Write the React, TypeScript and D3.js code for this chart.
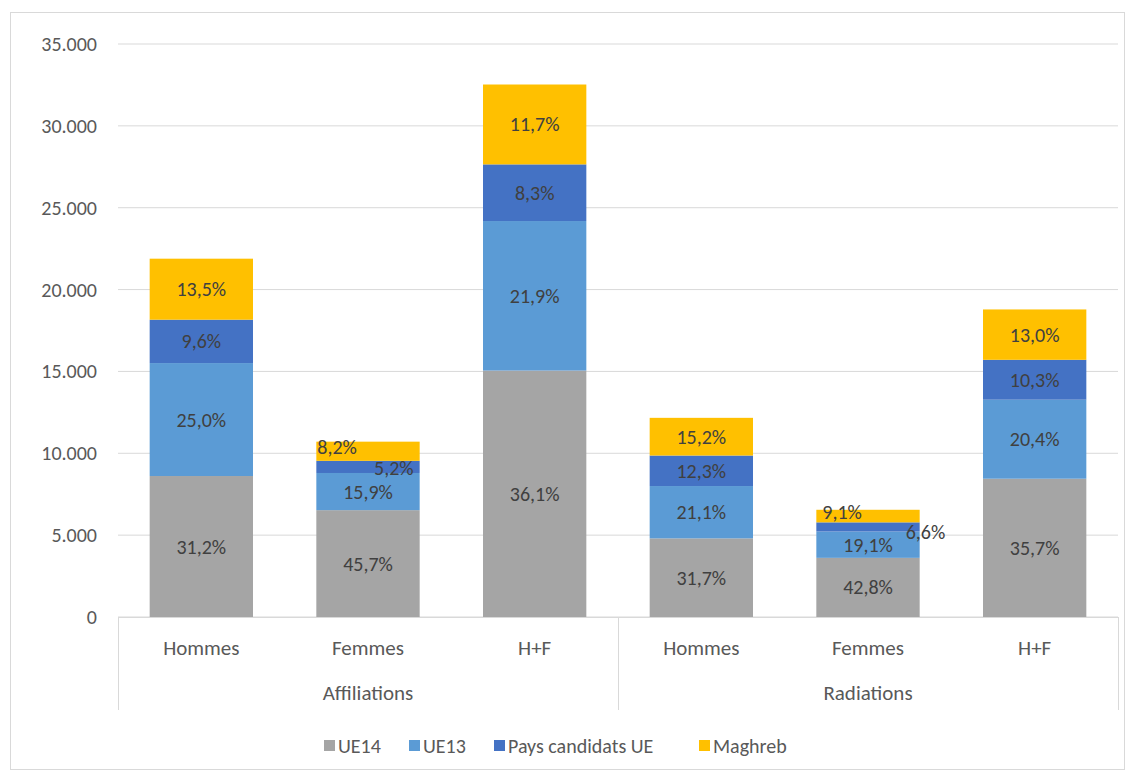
import React from "react";
import * as d3 from "d3";

// Categories along the x axis, grouped by movement type
const groups = ["Affiliations", "Radiations"];
const subCategories = ["Hommes", "Femmes", "H+F"];

// Series (stack order bottom → top)
const seriesNames = ["UE14", "UE13", "Pays candidats UE", "Maghreb"];
const seriesColors = ["#A5A5A5", "#5B9BD5", "#4472C4", "#FFC000"];

// Total foreign affiliations / radiations per category (all nationalities)
const totals = [27600, 14280, 41700, 15150, 8440, 23660];

// Share (%) of each nationality group in the category total
const shareUE14 = [31.2, 45.7, 36.1, 31.7, 42.8, 35.7];
const shareUE13 = [25.0, 15.9, 21.9, 21.1, 19.1, 20.4];
const sharePays = [9.6, 5.2, 8.3, 12.3, 6.6, 10.3];
const shareMaghreb = [13.5, 8.2, 11.7, 15.2, 9.1, 13.0];

const yTicks = [0, 5000, 10000, 15000, 20000, 25000, 30000, 35000];

const W = 1134;
const H = 773;
const FONT = "Carlito, Lato, 'Open Sans', sans-serif";

export default function App() {
  const shares = [shareUE14, shareUE13, sharePays, shareMaghreb];
  const cats = groups.flatMap((g) => subCategories.map((s) => `${g}|${s}`));

  const rows = cats.map((c, i) => {
    const r: any = { key: c };
    seriesNames.forEach((s, k) => {
      r[s] = (shares[k][i] / 100) * totals[i];
    });
    return r;
  });

  const stacked = d3.stack<any>().keys(seriesNames)(rows);

  const plotLeft = 118;
  const plotRight = 1118;
  const y = d3.scaleLinear().domain([0, 35000]).range([617, 44]);
  const x = d3
    .scaleBand<string>()
    .domain(cats)
    .range([plotLeft, plotRight])
    .paddingInner(0.38)
    .paddingOuter(0.19);

  const fmt = (v: number) => (v === 0 ? "0" : d3.format(",")(v).replace(/,/g, "."));
  const pct = (v: number) => v.toFixed(1).replace(".", ",") + "%";

  const groupW = (plotRight - plotLeft) / groups.length;

  // Legend layout
  const legendItems = [
    { name: "UE14", x: 324 },
    { name: "UE13", x: 409 },
    { name: "Pays candidats UE", x: 494 },
    { name: "Maghreb", x: 699 },
  ];

  // Thin segments get their labels nudged so they stay readable
  const placeLabel = (k: number, i: number, cx: number, cy: number) => {
    const left = x(cats[i]) as number;
    const right = left + x.bandwidth();
    if (k === 3 && i === 1) return { tx: left + 1, ty: cy - 4, anchor: "start" };
    if (k === 2 && i === 1) return { tx: right - 6, ty: cy + 1, anchor: "end" };
    if (k === 3 && i === 4) return { tx: left + 6, ty: cy - 4, anchor: "start" };
    if (k === 2 && i === 4) return { tx: right - 14, ty: cy + 5, anchor: "start" };
    return { tx: cx, ty: cy, anchor: "middle" };
  };

  return (
    <svg width={W} height={H} style={{ display: "block", position: "absolute", left: 0, top: 0, background: "#fff" }} fontFamily={FONT}>
      <rect x={10.5} y={12.5} width={1114} height={757} fill="#fff" stroke="#D9D9D9" />

      {/* Gridlines */}
      {yTicks.map((t) => (
        <line key={t} x1={plotLeft} x2={plotRight} y1={y(t)} y2={y(t)} stroke="#D9D9D9" strokeWidth={1} />
      ))}
      {/* Y tick labels */}
      {yTicks.map((t) => (
        <text key={"l" + t} x={97} y={y(t)} dy="0.35em" textAnchor="end" fontSize={20} fill="#595959">
          {fmt(t)}
        </text>
      ))}

      {/* Stacked bars */}
      {stacked.map((layer, k) => (
        <g key={layer.key} fill={seriesColors[k]}>
          {layer.map((d, i) => (
            <rect
              key={i}
              x={x(cats[i])}
              width={x.bandwidth()}
              y={y(d[1])}
              height={y(d[0]) - y(d[1])}
            />
          ))}
        </g>
      ))}

      {/* Data labels */}
      {stacked.map((layer, k) =>
        layer.map((d, i) => {
          const cx = (x(cats[i]) as number) + x.bandwidth() / 2;
          const cy = (y(d[0]) + y(d[1])) / 2;
          const p = placeLabel(k, i, cx, cy);
          return (
            <text
              key={layer.key + i}
              x={p.tx}
              y={p.ty}
              dy="0.35em"
              textAnchor={p.anchor as any}
              fontSize={20}
              fill="#404040"
            >
              {pct(shares[k][i])}
            </text>
          );
        })
      )}

      {/* Category axis */}
      <line x1={plotLeft} x2={plotRight} y1={617.5} y2={617.5} stroke="#D9D9D9" />
      {d3.range(groups.length + 1).map((g) => (
        <line
          key={"v" + g}
          x1={Math.round(plotLeft + g * groupW) + 0.5}
          x2={Math.round(plotLeft + g * groupW) + 0.5}
          y1={617}
          y2={710}
          stroke="#D9D9D9"
        />
      ))}
      {cats.map((c) => (
        <text
          key={"c" + c}
          x={(x(c) as number) + x.bandwidth() / 2}
          y={648}
          dy="0.35em"
          textAnchor="middle"
          fontSize={21}
          fill="#595959"
        >
          {c.split("|")[1]}
        </text>
      ))}
      {groups.map((g, gi) => (
        <text
          key={"g" + g}
          x={plotLeft + (gi + 0.5) * groupW}
          y={693}
          dy="0.35em"
          textAnchor="middle"
          fontSize={21}
          fill="#595959"
        >
          {g}
        </text>
      ))}

      {/* Legend */}
      {legendItems.map((it) => {
        const k = seriesNames.indexOf(it.name);
        return (
          <g key={it.name}>
            <rect x={it.x} y={740} width={11} height={11} fill={seriesColors[k]} />
            <text x={it.x + 14} y={746} dy="0.35em" fontSize={20} fill="#595959">
              {it.name}
            </text>
          </g>
        );
      })}
    </svg>
  );
}
